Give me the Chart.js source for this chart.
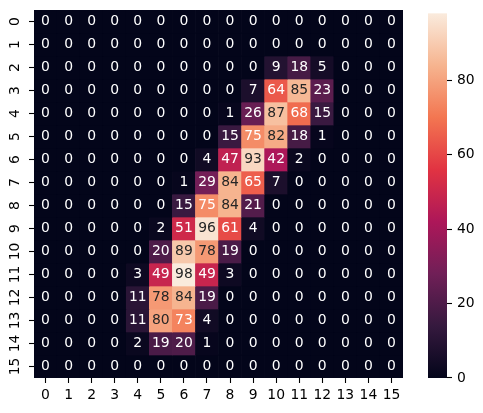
<!DOCTYPE html>
<html>
<head>
<meta charset="utf-8">
<script src="https://cdn.jsdelivr.net/npm/chart.js@4"></script>
<style>
  html, body { margin: 0; padding: 0; background: #fff; }
  #wrap { position: relative; width: 483px; height: 413px; }
  #mapa { position: absolute; left: 0; top: 0; }
  #barra { position: absolute; left: 420px; top: 0; }
</style>
</head>
<body>
<div id="wrap">
  <canvas id="mapa" width="483" height="413"></canvas>
  <canvas id="barra" width="63" height="413"></canvas>
</div>
<script>
// Etiquetas de columnas y filas
const columnas = ["0","1","2","3","4","5","6","7","8","9","10","11","12","13","14","15"];
const filas = ["0","1","2","3","4","5","6","7","8","9","10","11","12","13","14","15"];

// Valores de cada celda, fila por fila
const valores = [
	[0, 0, 0, 0, 0, 0, 0, 0, 0, 0, 0, 0, 0, 0, 0, 0],
	[0, 0, 0, 0, 0, 0, 0, 0, 0, 0, 0, 0, 0, 0, 0, 0],
	[0, 0, 0, 0, 0, 0, 0, 0, 0, 0, 9, 18, 5, 0, 0, 0],
	[0, 0, 0, 0, 0, 0, 0, 0, 0, 7, 64, 85, 23, 0, 0, 0],
	[0, 0, 0, 0, 0, 0, 0, 0, 1, 26, 87, 68, 15, 0, 0, 0],
	[0, 0, 0, 0, 0, 0, 0, 0, 15, 75, 82, 18, 1, 0, 0, 0],
	[0, 0, 0, 0, 0, 0, 0, 4, 47, 93, 42, 2, 0, 0, 0, 0],
	[0, 0, 0, 0, 0, 0, 1, 29, 84, 65, 7, 0, 0, 0, 0, 0],
	[0, 0, 0, 0, 0, 0, 15, 75, 84, 21, 0, 0, 0, 0, 0, 0],
	[0, 0, 0, 0, 0, 2, 51, 96, 61, 4, 0, 0, 0, 0, 0, 0],
	[0, 0, 0, 0, 0, 20, 89, 78, 19, 0, 0, 0, 0, 0, 0, 0],
	[0, 0, 0, 0, 3, 49, 98, 49, 3, 0, 0, 0, 0, 0, 0, 0],
	[0, 0, 0, 0, 11, 78, 84, 19, 0, 0, 0, 0, 0, 0, 0, 0],
	[0, 0, 0, 0, 11, 80, 73, 4, 0, 0, 0, 0, 0, 0, 0, 0],
	[0, 0, 0, 0, 2, 19, 20, 1, 0, 0, 0, 0, 0, 0, 0, 0],
	[0, 0, 0, 0, 0, 0, 0, 0, 0, 0, 0, 0, 0, 0, 0, 0],
];

// Marcas de la barra de color
const ticksBarra = [0, 20, 40, 60, 80];

const vmin = 0;
const vmax = Math.max(...valores.flat());

// Paleta "rocket" aproximada por puntos de anclaje
const rocket = [
	[0 / 7, [3, 5, 26]],
	[1 / 7, [53, 25, 62]],
	[2 / 7, [112, 31, 87]],
	[3 / 7, [173, 23, 89]],
	[4 / 7, [225, 51, 66]],
	[5 / 7, [243, 118, 81]],
	[6 / 7, [246, 180, 143]],
	[7 / 7, [250, 235, 221]],
];

const rgbRocket = (t) => {
	t = Math.min(1, Math.max(0, t));
	for (let i = 1; i < rocket.length; i++) {
		const [p1, c1] = rocket[i];
		const [p0, c0] = rocket[i - 1];
		if (t <= p1) {
			const f = (t - p0) / (p1 - p0);
			return c0.map((v, k) => Math.round(v + (c1[k] - v) * f));
		}
	}
	return rocket[rocket.length - 1][1];
};

const color = (v) => {
	const c = rgbRocket((v - vmin) / (vmax - vmin));
	return `rgb(${c[0]},${c[1]},${c[2]})`;
};

// Igual que seaborn: texto oscuro sobre celdas claras
const colorTexto = (v) => {
	const c = rgbRocket((v - vmin) / (vmax - vmin)).map((x) => {
		x = x / 255;
		return x <= 0.03928 ? x / 12.92 : Math.pow((x + 0.055) / 1.055, 2.4);
	});
	const lum = c[0] * 0.2126 + c[1] * 0.7152 + c[2] * 0.0722;
	return lum > 0.408 ? "#262626" : "#ffffff";
};

const fuente = { family: "'DejaVu Sans', sans-serif", size: 13.9 };

// Escribe el valor en el centro de cada celda
const anotaciones = {
	id: "anotaciones",
	afterDatasetsDraw(chart) {
		const { ctx } = chart;
		const x = chart.scales.x;
		const y = chart.scales.y;
		ctx.save();
		ctx.font = "13.9px 'DejaVu Sans', sans-serif";
		ctx.textAlign = "center";
		ctx.textBaseline = "middle";
		valores.forEach((fila, r) => {
			fila.forEach((v, c) => {
				ctx.fillStyle = colorTexto(v);
				ctx.fillText(String(v), x.getPixelForValue(c), y.getPixelForValue(r + 0.5));
			});
		});
		ctx.restore();
	},
};

// Etiquetas del eje Y giradas, como en matplotlib
const etiquetasY = {
	id: "etiquetasY",
	afterDraw(chart) {
		const { ctx } = chart;
		const y = chart.scales.y;
		ctx.save();
		ctx.font = "13.9px 'DejaVu Sans', sans-serif";
		ctx.fillStyle = "#000";
		ctx.textAlign = "center";
		ctx.textBaseline = "middle";
		filas.forEach((f, r) => {
			ctx.save();
			ctx.translate(chart.chartArea.left - 19, y.getPixelForValue(r + 0.5));
			ctx.rotate(-Math.PI / 2);
			ctx.fillText(f, 0, 0);
			ctx.restore();
		});
		ctx.restore();
	},
};

const mapa = new Chart(document.getElementById("mapa"), {
	type: "bar",
	data: {
		labels: columnas,
		datasets: valores.map((fila, r) => ({
			label: filas[r],
			data: fila.map(() => [r, r + 1]),
			backgroundColor: fila.map((v) => color(v)),
			borderWidth: 0,
			barPercentage: 1,
			categoryPercentage: 1,
			grouped: false,
		})),
	},
	options: {
		responsive: false,
		animation: false,
		layout: { padding: { left: 0, top: 10, right: 80, bottom: 0 } },
		plugins: { legend: { display: false }, tooltip: { enabled: false } },
		scales: {
			x: {
				type: "category",
				border: { display: false },
				grid: { offset: false, drawOnChartArea: false, tickLength: 5, tickColor: "#000", tickWidth: 1.1 },
				ticks: { font: fuente, color: "#000", padding: 4, maxRotation: 0, autoSkip: false },
				afterFit: (s) => { s.height = 35; },
			},
			y: {
				type: "linear",
				min: 0,
				max: 16,
				reverse: true,
				border: { display: false },
				grid: { drawOnChartArea: false, tickLength: 5, tickColor: "#000", tickWidth: 1.1 },
				ticks: { display: false },
				afterBuildTicks: (s) => { s.ticks = filas.map((f, r) => ({ value: r + 0.5 })); },
				afterFit: (s) => { s.width = 34; },
			},
		},
	},
	plugins: [anotaciones, etiquetasY],
});

// Degradado de la barra de color siguiendo la escala
const degradado = {
	id: "degradado",
	beforeDatasetsDraw(chart) {
		const { ctx, chartArea } = chart;
		const y = chart.scales.y;
		const y0 = y.getPixelForValue(vmin);
		const y1 = y.getPixelForValue(vmax);
		const g = ctx.createLinearGradient(0, y0, 0, y1);
		rocket.forEach(([p, c]) => g.addColorStop(p, `rgb(${c[0]},${c[1]},${c[2]})`));
		ctx.save();
		ctx.fillStyle = g;
		ctx.fillRect(chartArea.left, y1, chartArea.right - chartArea.left, y0 - y1);
		ctx.restore();
	},
};

const barra = new Chart(document.getElementById("barra"), {
	type: "bar",
	data: {
		labels: [""],
		datasets: [{ data: [[vmin, vmax]], backgroundColor: "rgba(0,0,0,0)", borderWidth: 0 }],
	},
	options: {
		responsive: false,
		animation: false,
		layout: { padding: { left: 8, top: 10, right: 0, bottom: 35 } },
		plugins: { legend: { display: false }, tooltip: { enabled: false } },
		scales: {
			x: { display: false },
			y: {
				position: "right",
				min: vmin,
				max: vmax,
				border: { display: false },
				grid: { drawOnChartArea: false, tickLength: 5, tickColor: "#000", tickWidth: 1.1 },
				ticks: { font: fuente, color: "#000", padding: 5 },
				afterBuildTicks: (s) => { s.ticks = ticksBarra.map((v) => ({ value: v })); },
				afterFit: (s) => { s.width = 36; },
			},
		},
	},
	plugins: [degradado],
});
</script>
</body>
</html>
